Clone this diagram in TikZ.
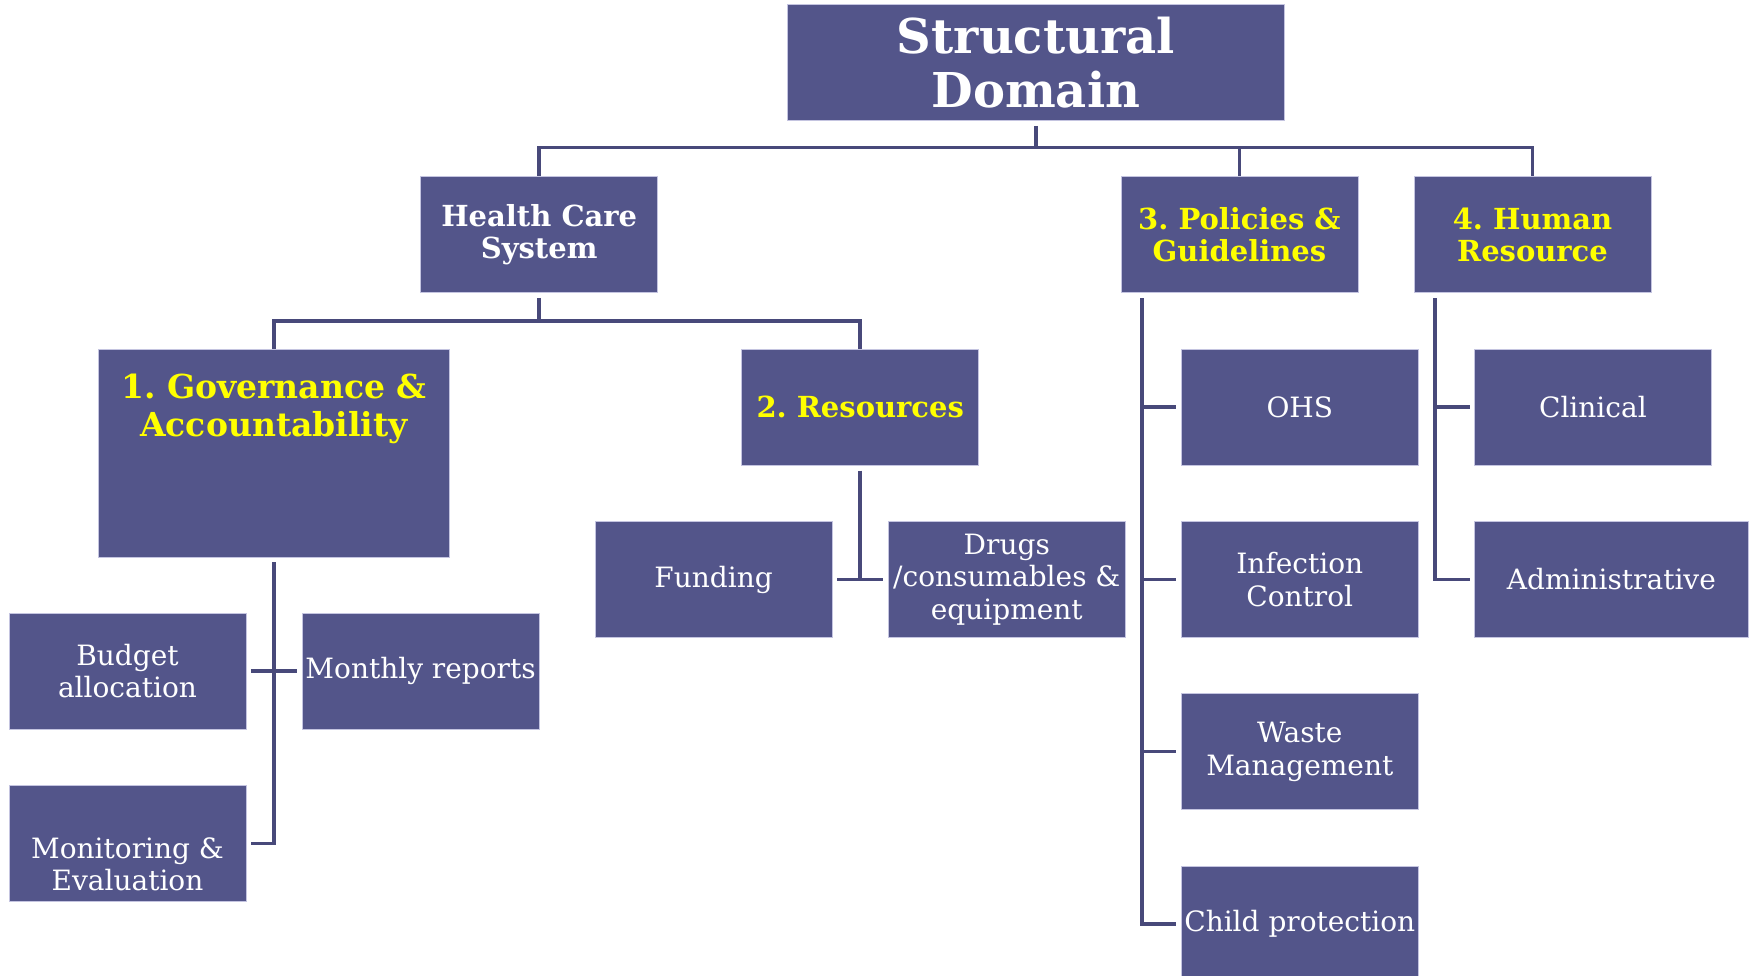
\documentclass[tikz,border=0pt]{standalone}
\usepackage{fontspec}
\setmainfont{DejaVu Serif}
\definecolor{BoxClr}{RGB}{83,85,138}
\definecolor{LineClr}{RGB}{72,73,122}
\definecolor{EdgeClr}{RGB}{196,196,224}
\definecolor{HeadClr}{RGB}{255,255,0}

\begin{document}
\begin{tikzpicture}[x=1pt,y=-1pt,
  box/.style={draw=EdgeClr,line width=.8pt,fill=BoxClr,text=white,
    minimum width=237,minimum height=116,inner sep=0,align=center,
    font=\fontsize{28}{32.4}\selectfont},
  head/.style={box,text=HeadClr,font=\bfseries\fontsize{29}{32.4}\selectfont},
  conn/.style={draw=LineClr,line width=3.5pt},
  stub/.style={conn,shorten <=4.5,shorten >=4.5}]
\path[fill=white] (0,0) rectangle (1754,976);
\useasboundingbox (0,0) rectangle (1754,976);

\node[box,font=\bfseries\fontsize{48}{53.7}\selectfont,minimum width=497] (top) at (1035.9,62.6) {Structural\\Domain};
\node[box,font=\bfseries\fontsize{29}{32.4}\selectfont] (hcs) at (539.2,234.9) {Health Care\\System};
\node[head] (pol) at (1239.4,234.9) {3.\ Policies \&\\Guidelines};
\node[head] (hr) at (1532.5,234.9) {4.\ Human\\Resource};

\node[box,minimum width=351,minimum height=208,
  label={[text=HeadClr,align=center,font=\bfseries\fontsize{33}{38}\selectfont,yshift=44]center:{1.\ Governance \&\\Accountability}}] (gov) at (274,453) {};
\node[head] (res) at (860.2,407.2) {2.\ Resources};

\node[box] (budget) at (127.5,671.2) {Budget\\allocation};
\node[box] (monthly) at (420.6,671.2) {Monthly reports};
\node[box,label={[text=white,align=center,font=\fontsize{28}{32.4}\selectfont,yshift=-21]center:{Monitoring \&\\Evaluation}}] (mne) at (127.5,843.4) {};

\node[box] (funding) at (713.6,579.5) {Funding};
\node[box] (drugs) at (1006.8,579.5) {Drugs\\/consumables \&\\equipment};

\node[box] (ohs) at (1299.8,407.2) {OHS};
\node[box] (infect) at (1299.8,579.5) {Infection\\Control};
\node[box] (waste) at (1299.8,751.7) {Waste\\Management};
\node[box] (childp) at (1299.8,924) {Child protection};

\node[box] (clinical) at (1592.9,407.2) {Clinical};
\node[box,minimum width=274] (admin) at (1611.4,579.5) {Administrative};

\coordinate (topbus) at (1035.9,147.7);
\coordinate (hcsbus) at (539.2,321);
\draw[conn,shorten <=5] (top.south) -- (topbus) -| (hcs.north);
\draw[conn] (topbus) -| (pol.north);
\draw[conn] (topbus) -| (hr.north);
\draw[conn,shorten <=4.5] (hcs.south) -- (hcsbus) -| (gov.north);
\draw[conn] (hcsbus) -| (res.north);

\draw[conn,shorten <=5,shorten >=4.5] (gov.south) |- (mne.east);
\draw[stub] (budget) -- (monthly);
\draw[conn,shorten <=5] (res.south) -- (res.south |- funding.east);
\draw[stub] (funding) -- (drugs);

\coordinate (polrail) at ([xshift=21.3]pol.south west);
\draw[conn,shorten <=5,shorten >=4.5] (polrail) |- (childp.west);
\foreach \n in {ohs,infect,waste}
  \draw[conn,shorten >=4.5] (polrail |- \n.west) -- (\n.west);

\coordinate (hrrail) at ([xshift=21.3]hr.south west);
\draw[conn,shorten <=5,shorten >=4.5] (hrrail) |- (admin.west);
\draw[conn,shorten >=4.5] (hrrail |- clinical.west) -- (clinical.west);

\end{tikzpicture}
\end{document}
